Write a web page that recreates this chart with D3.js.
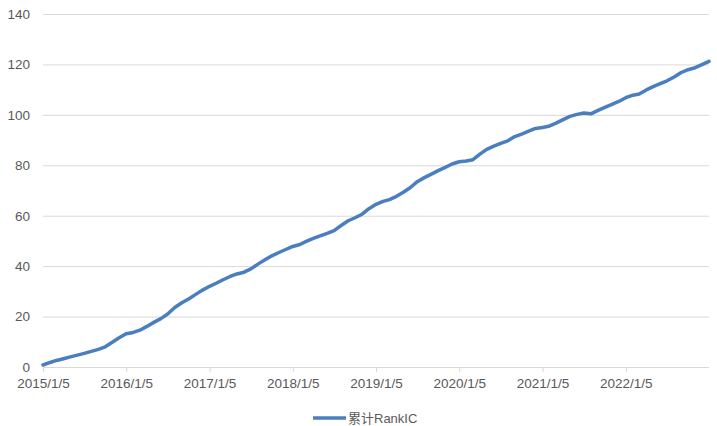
<!DOCTYPE html>
<html>
<head>
<meta charset="utf-8">
<script src="https://cdn.jsdelivr.net/npm/d3@7"></script>
<style>
  body { margin: 0; background: #fff; }
  svg text { font-family: "Liberation Sans", "Noto Sans CJK SC", sans-serif; fill: #595959; }
</style>
</head>
<body>
<svg id="chart" width="717" height="426"></svg>
<script>
// monthly samples of the cumulative RankIC, starting 2015/1/5
const START = '2015-01-05';
const cumRankIC = [
  0.8, 1.8, 2.6, 3.3, 4.0, 4.7, 5.4, 6.2, 7.0, 8.0, 9.8, 11.6,
  13.2, 13.7, 14.6, 16.1, 17.7, 19.2, 21.0, 23.6, 25.5, 27.0, 28.8, 30.5,
  32.0, 33.3, 34.6, 35.9, 36.9, 37.6, 38.9, 40.8, 42.5, 44.1, 45.4, 46.6,
  47.8, 48.6, 49.8, 51.0, 52.0, 53.0, 54.1, 56.1, 58.0, 59.2, 60.6, 62.8,
  64.5, 65.7, 66.4, 67.7, 69.3, 71.2, 73.5, 75.1, 76.5, 77.9, 79.2, 80.5,
  81.4, 81.7, 82.2, 84.4, 86.3, 87.6, 88.7, 89.7, 91.4, 92.4, 93.5, 94.6,
  95.0, 95.6, 96.7, 98.1, 99.4, 100.2, 100.7, 100.4, 101.8, 103.0, 104.2, 105.3,
  106.8, 107.8, 108.3, 109.9, 111.2, 112.4, 113.5, 115.0, 116.8, 117.9, 118.7, 119.9,
  121.2
];
const xTickLabels = ['2015/1/5', '2016/1/5', '2017/1/5', '2018/1/5',
                     '2019/1/5', '2020/1/5', '2021/1/5', '2022/1/5'];
const yTicks = [0, 20, 40, 60, 80, 100, 120, 140];
const seriesName = '累计RankIC';

const PAD = { top: 14, right: 8, bottom: 59, left: 43 };
const W = 717, H = 426;
const lineColor = '#4a7ebf';
const gridColor = '#d9d9d9';

const parse = d3.timeParse('%Y-%m-%d');
const parseTick = d3.timeParse('%Y/%-m/%-d');
const t0 = parse(START);
const data = cumRankIC.map((v, i) => ({ date: d3.timeMonth.offset(t0, i), v }));

const svg = d3.select('#chart');

const x = d3.scaleTime()
  .domain([t0, d3.timeMonth.offset(t0, cumRankIC.length - 1)])
  .range([PAD.left, W - PAD.right]);

const y = d3.scaleLinear()
  .domain([0, 140])
  .range([H - PAD.bottom, PAD.top]);

// gridlines + y labels
const yAxis = d3.axisLeft(y)
  .tickValues(yTicks)
  .tickSize(-(W - PAD.left - PAD.right))
  .tickPadding(13);

svg.append('g')
  .attr('transform', `translate(${PAD.left},0)`)
  .call(yAxis)
  .call(g => g.select('.domain').remove())
  .call(g => g.selectAll('line').attr('stroke', gridColor))
  .call(g => g.selectAll('text').attr('font-size', 13.5).attr('fill', '#595959'));

// x axis
const xAxis = d3.axisBottom(x)
  .tickValues(xTickLabels.map(parseTick))
  .tickFormat((d, i) => xTickLabels[i])
  .tickSize(5)
  .tickPadding(6);

svg.append('g')
  .attr('transform', `translate(0,${y(0)})`)
  .call(xAxis)
  .call(g => g.select('.domain').attr('stroke', gridColor).attr('d', `M${PAD.left},0.5H${W - PAD.right}`))
  .call(g => g.selectAll('line').attr('stroke', gridColor))
  .call(g => g.selectAll('text').attr('font-size', 13.5).attr('fill', '#595959'));

// series line
const line = d3.line()
  .x(d => x(d.date))
  .y(d => y(d.v));

svg.append('path')
  .datum(data)
  .attr('fill', 'none')
  .attr('stroke', lineColor)
  .attr('stroke-width', 3.5)
  .attr('stroke-linejoin', 'round')
  .attr('stroke-linecap', 'round')
  .attr('d', line);

// legend
const lg = svg.append('g').attr('transform', 'translate(313,418)');
lg.append('line')
  .attr('x1', 0).attr('x2', 33)
  .attr('stroke', lineColor)
  .attr('stroke-width', 3.5);
lg.append('text')
  .attr('x', 35)
  .attr('dy', '0.35em')
  .attr('font-size', 13)
  .text(seriesName);
</script>
</body>
</html>
